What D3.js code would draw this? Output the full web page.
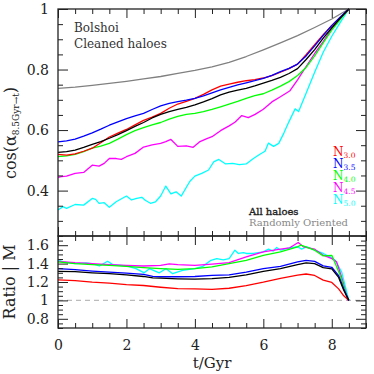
<!DOCTYPE html>
<html>
<head>
<meta charset="utf-8">
<script src="https://cdn.jsdelivr.net/npm/d3@7"></script>
<style>
  body { margin: 0; background: #fff; }
  svg text { font-family: "DejaVu Serif", serif; }
</style>
</head>
<body>
<script>
// panel sizes
var w = 374, h = 374;
var left = 58, right = 366;
var topY0 = 9, topY1 = 236, botY1 = 328;

// cos(alpha) curves, [t/Gyr, value]
var grayTop = [[0,0.738],[0.5,0.742],[1,0.748],[1.5,0.754],[2,0.761],[2.5,0.769],[3,0.777],[3.5,0.787],[4,0.797],[4.5,0.809],[5,0.824],[5.5,0.843],[6,0.865],[6.5,0.888],[7,0.912],[7.5,0.939],[8,0.967],[8.5,1]];
var redTop = [[0,0.52],[0.25,0.517],[0.5,0.521],[0.75,0.53],[1,0.54],[1.25,0.558],[1.5,0.577],[1.75,0.59],[2,0.602],[2.25,0.617],[2.5,0.632],[2.75,0.643],[3,0.655],[3.25,0.672],[3.5,0.686],[3.75,0.695],[4,0.705],[4.25,0.718],[4.5,0.733],[4.75,0.745],[5,0.752],[5.25,0.758],[5.5,0.763],[5.75,0.767],[6,0.772],[6.25,0.78],[6.5,0.791],[6.75,0.803],[7,0.818],[7.25,0.849],[7.5,0.882],[7.75,0.915],[8,0.945],[8.25,0.972],[8.5,1]];
var blueTop = [[0,0.561],[0.25,0.564],[0.5,0.57],[0.75,0.58],[1,0.591],[1.25,0.603],[1.5,0.616],[1.75,0.627],[2,0.638],[2.25,0.647],[2.5,0.655],[2.75,0.668],[3,0.68],[3.25,0.688],[3.5,0.694],[3.75,0.699],[4,0.705],[4.25,0.713],[4.5,0.723],[4.75,0.733],[5,0.741],[5.25,0.749],[5.5,0.756],[5.75,0.763],[6,0.771],[6.25,0.781],[6.5,0.793],[6.75,0.804],[7,0.818],[7.25,0.845],[7.5,0.878],[7.75,0.913],[8,0.946],[8.25,0.974],[8.5,1]];
var blackTop = [[0,0.526],[0.25,0.529],[0.5,0.534],[0.75,0.543],[1,0.553],[1.25,0.562],[1.5,0.573],[1.75,0.585],[2,0.598],[2.25,0.612],[2.5,0.625],[2.75,0.64],[3,0.652],[3.25,0.661],[3.5,0.668],[3.75,0.675],[4,0.683],[4.25,0.693],[4.5,0.704],[4.75,0.716],[5,0.725],[5.25,0.732],[5.5,0.738],[5.75,0.746],[6,0.755],[6.25,0.764],[6.5,0.774],[6.75,0.787],[7,0.803],[7.25,0.833],[7.5,0.866],[7.75,0.904],[8,0.938],[8.25,0.97],[8.5,1]];
var greenTop = [[0,0.512],[0.25,0.515],[0.5,0.52],[0.75,0.529],[1,0.54],[1.25,0.547],[1.5,0.556],[1.75,0.57],[2,0.585],[2.25,0.598],[2.5,0.608],[2.75,0.617],[3,0.625],[3.25,0.636],[3.5,0.645],[3.75,0.652],[4,0.655],[4.25,0.661],[4.5,0.668],[4.75,0.677],[5,0.686],[5.25,0.695],[5.5,0.705],[5.75,0.714],[6,0.72],[6.25,0.732],[6.5,0.745],[6.75,0.76],[7,0.78],[7.25,0.807],[7.5,0.845],[7.75,0.888],[8,0.93],[8.25,0.966],[8.5,1]];
var magentaTop = [[0,0.444],[0.1,0.446],[0.25,0.448],[0.5,0.457],[0.75,0.46],[1,0.484],[1.2,0.481],[1.35,0.49],[1.5,0.506],[1.7,0.506],[1.85,0.503],[2,0.512],[2.25,0.523],[2.5,0.544],[2.75,0.551],[3,0.556],[3.15,0.562],[3.3,0.569],[3.5,0.546],[3.75,0.548],[3.95,0.543],[4.15,0.562],[4.35,0.572],[4.5,0.578],[4.75,0.598],[5,0.614],[5.17,0.626],[5.37,0.648],[5.56,0.641],[5.76,0.652],[6,0.669],[6.25,0.693],[6.5,0.71],[6.78,0.73],[7,0.766],[7.25,0.81],[7.5,0.853],[7.75,0.892],[8,0.935],[8.25,0.97],[8.5,1]];
var cyanTop = [[0,0.336],[0.15,0.347],[0.25,0.341],[0.5,0.354],[0.75,0.352],[1,0.374],[1.1,0.371],[1.2,0.358],[1.35,0.36],[1.5,0.345],[1.7,0.363],[2,0.382],[2.15,0.369],[2.3,0.374],[2.45,0.378],[2.55,0.368],[2.7,0.358],[2.85,0.363],[3,0.382],[3.15,0.415],[3.3,0.389],[3.45,0.396],[3.6,0.382],[3.85,0.43],[4,0.448],[4.2,0.457],[4.4,0.468],[4.55,0.495],[4.7,0.503],[4.9,0.488],[5.1,0.49],[5.3,0.486],[5.5,0.488],[5.7,0.505],[5.9,0.52],[6.05,0.53],[6.15,0.557],[6.3,0.546],[6.45,0.556],[6.6,0.59],[6.75,0.628],[6.93,0.67],[7.03,0.661],[7.25,0.722],[7.5,0.791],[7.75,0.857],[8,0.91],[8.25,0.956],[8.5,1]];

// ratio curves
var redBot = [[0,1.224],[0.5,1.216],[1,1.198],[1.5,1.187],[2,1.172],[2.5,1.162],[3,1.143],[3.5,1.127],[4,1.125],[4.5,1.12],[5,1.132],[5.5,1.161],[6,1.198],[6.5,1.24],[7,1.275],[7.25,1.287],[7.5,1.271],[7.75,1.22],[8,1.195],[8.2,1.125],[8.35,1.05],[8.5,1]];
var blueBot = [[0,1.345],[0.5,1.334],[1,1.319],[1.5,1.308],[2,1.297],[2.5,1.282],[2.77,1.262],[3,1.257],[3.5,1.257],[4,1.26],[4.5,1.271],[5,1.278],[5.5,1.308],[6,1.345],[6.5,1.37],[7,1.418],[7.25,1.434],[7.5,1.425],[7.75,1.376],[8,1.36],[8.2,1.27],[8.35,1.125],[8.5,1]];
var blackBot = [[0,1.315],[0.5,1.313],[1,1.3],[1.5,1.29],[2,1.278],[2.5,1.26],[2.77,1.245],[3,1.242],[3.5,1.235],[4,1.231],[4.5,1.236],[5,1.25],[5.5,1.278],[6,1.315],[6.5,1.345],[7,1.389],[7.25,1.408],[7.5,1.4],[7.75,1.356],[8,1.343],[8.2,1.25],[8.35,1.11],[8.5,1]];
var greenBot = [[0,1.418],[0.5,1.4],[1,1.389],[1.5,1.381],[2,1.37],[2.5,1.356],[3,1.345],[3.5,1.338],[4,1.345],[4.5,1.365],[5,1.4],[5.5,1.436],[6,1.49],[6.5,1.528],[7,1.583],[7.1,1.6],[7.5,1.546],[7.75,1.484],[8,1.49],[8.25,1.27],[8.45,1.03],[8.5,1]];
var magentaBot = [[0,1.425],[0.5,1.41],[1,1.4],[1.5,1.389],[2,1.381],[2.5,1.374],[3,1.381],[3.25,1.396],[3.5,1.389],[4,1.381],[4.5,1.395],[5,1.41],[5.5,1.473],[6,1.528],[6.5,1.557],[6.77,1.572],[7.02,1.63],[7.17,1.583],[7.5,1.557],[7.75,1.491],[8,1.455],[8.14,1.42],[8.29,1.25],[8.47,1]];
var cyanBot = [[0,1.444],[0.14,1.418],[0.5,1.4],[0.82,1.408],[1,1.4],[1.21,1.374],[1.45,1.425],[1.6,1.389],[2,1.374],[2.28,1.345],[2.52,1.3],[2.67,1.345],[2.96,1.3],[3.16,1.345],[3.35,1.29],[3.64,1.326],[4,1.345],[4.23,1.37],[4.47,1.436],[4.64,1.454],[4.83,1.44],[5,1.454],[5.17,1.546],[5.27,1.51],[5.42,1.52],[5.5,1.51],[5.71,1.51],[6,1.528],[6.15,1.557],[6.29,1.535],[6.39,1.575],[6.5,1.546],[6.68,1.564],[7,1.583],[7.12,1.557],[7.27,1.583],[7.5,1.546],[7.75,1.51],[7.95,1.473],[8.1,1.436],[8.29,1.308],[8.5,1]];

var legendLabels = ["3.0", "3.5", "4.0", "4.5", "5.0"];
var legendColors = ["#ff0000", "#0000ff", "#00ff00", "#ff00ff", "#00ffff"];

var xTicks = [0, 2, 4, 6, 8];
var yTopTicks = [0.4, 0.6, 0.8, 1];
var yBotTicks = [0.8, 1, 1.2, 1.4, 1.6];

// scales
var x = d3.scaleLinear().domain([0, 9]).range([left, right]);
var yTop = d3.scaleLinear().domain([0.25, 1]).range([topY1, topY0]);
var yBot = d3.scaleLinear().domain([0.7, 1.7]).range([botY1, topY1]);

var svg = d3.select("body").append("svg")
  .attr("width", w)
  .attr("height", h);

function ticks(g, axis) {
  g.call(axis);
  g.select(".domain").remove();
  g.selectAll(".tick line").attr("stroke", "#222").attr("stroke-width", 1);
  g.selectAll(".tick text").attr("fill", "#222").style("font-family", "DejaVu Serif").style("font-size", "14px");
}

function panel(y, y0, y1, majors, minors, labels) {
  // x ticks top and bottom
  var xMinor = d3.range(0, 9.01, 0.5).filter(function(v) { return v % 2 !== 0; });
  svg.append("g").attr("transform", "translate(0," + y1 + ")")
    .call(ticks, d3.axisBottom(x).tickValues(xTicks).tickSize(-9).tickPadding(labels ? 12 : 0)
      .tickFormat(labels ? d3.format("d") : ""));
  svg.append("g").attr("transform", "translate(0," + y1 + ")")
    .call(ticks, d3.axisBottom(x).tickValues(xMinor).tickSize(-5).tickFormat(""));
  svg.append("g").attr("transform", "translate(0," + y0 + ")")
    .call(ticks, d3.axisTop(x).tickValues(xTicks).tickSize(-9).tickFormat(""));
  svg.append("g").attr("transform", "translate(0," + y0 + ")")
    .call(ticks, d3.axisTop(x).tickValues(xMinor).tickSize(-5).tickFormat(""));
  // y ticks left and right
  svg.append("g").attr("transform", "translate(" + left + ",0)")
    .call(ticks, d3.axisLeft(y).tickValues(majors).tickSize(-10).tickPadding(9).tickFormat(d3.format("")));
  svg.append("g").attr("transform", "translate(" + left + ",0)")
    .call(ticks, d3.axisLeft(y).tickValues(minors).tickSize(-5).tickFormat(""));
  svg.append("g").attr("transform", "translate(" + right + ",0)")
    .call(ticks, d3.axisRight(y).tickValues(majors).tickSize(-10).tickFormat(""));
  svg.append("g").attr("transform", "translate(" + right + ",0)")
    .call(ticks, d3.axisRight(y).tickValues(minors).tickSize(-5).tickFormat(""));
  svg.append("rect")
    .attr("x", left).attr("y", y0)
    .attr("width", right - left).attr("height", y1 - y0)
    .attr("fill", "none").attr("stroke", "#222").attr("stroke-width", 1.3);
}

function minorVals(a, b, step, majors) {
  return d3.range(a, b + 1e-9, step).map(function(v) { return +v.toFixed(3); })
    .filter(function(v) { return majors.every(function(m) { return Math.abs(m - v) > 1e-6; }); });
}

// ratio = 1 reference
svg.append("line")
  .attr("x1", left).attr("x2", right)
  .attr("y1", yBot(1)).attr("y2", yBot(1))
  .attr("stroke", "#bbb").attr("stroke-width", 1.2)
  .attr("stroke-dasharray", "5,4");

function curve(data, y, color) {
  var line = d3.line()
    .x(function(d) { return x(d[0]); })
    .y(function(d) { return y(d[1]); });
  svg.append("path")
    .datum(data)
    .attr("d", line)
    .attr("fill", "none")
    .attr("stroke", color)
    .attr("stroke-width", 1.3)
    .attr("stroke-linejoin", "round");
}

curve(grayTop, yTop, "#808080");
curve(cyanTop, yTop, "#00ffff");
curve(magentaTop, yTop, "#ff00ff");
curve(greenTop, yTop, "#00ff00");
curve(redTop, yTop, "#ff0000");
curve(blueTop, yTop, "#0000ff");
curve(blackTop, yTop, "#000000");

curve(cyanBot, yBot, "#00ffff");
curve(magentaBot, yBot, "#ff00ff");
curve(greenBot, yBot, "#00ff00");
curve(redBot, yBot, "#ff0000");
curve(blueBot, yBot, "#0000ff");
curve(blackBot, yBot, "#000000");

panel(yTop, topY0, topY1, yTopTicks, minorVals(0.25, 1, 0.05, yTopTicks), false);
panel(yBot, topY1, botY1, yBotTicks, minorVals(0.7, 1.7, 0.05, yBotTicks), true);

// texts
svg.append("text").attr("x", 74).attr("y", 32)
  .style("font-size", "12px").attr("fill", "#333").text("Bolshoi");
svg.append("text").attr("x", 74).attr("y", 48)
  .style("font-size", "12px").attr("fill", "#333").text("Cleaned haloes");

var leg = svg.append("g");
legendLabels.forEach(function(s, i) {
  var t = leg.append("text").attr("x", 333).attr("y", 156 + i * 12)
    .attr("fill", legendColors[i]);
  t.append("tspan").style("font-size", "12px").text("N");
  t.append("tspan").style("font-size", "7.5px").attr("dy", 1.5).text(s);
});

svg.append("text").attr("x", 249).attr("y", 215)
  .style("font-size", "10px").attr("fill", "#222")
  .attr("stroke", "#222").attr("stroke-width", 0.35).text("All haloes");
svg.append("text").attr("x", 249).attr("y", 226)
  .style("font-size", "10px").attr("fill", "#888").text("Randomly Oriented");

// axis titles
svg.append("text")
  .attr("x", 212).attr("y", 368)
  .attr("text-anchor", "middle")
  .style("font-size", "15px").attr("fill", "#222")
  .text("t/Gyr");

var yl = svg.append("text")
  .attr("transform", "translate(16,133) rotate(-90)")
  .attr("text-anchor", "middle")
  .attr("fill", "#222");
yl.append("tspan").style("font-size", "16px").text("cos(α");
yl.append("tspan").style("font-size", "9px").attr("dy", 3).text("8.5Gyr→t");
yl.append("tspan").style("font-size", "16px").attr("dy", -3).text(")");

svg.append("text")
  .attr("transform", "translate(15,282) rotate(-90)")
  .attr("text-anchor", "middle")
  .style("font-size", "16px").attr("fill", "#222")
  .text("Ratio | M");
</script>
</body>
</html>
